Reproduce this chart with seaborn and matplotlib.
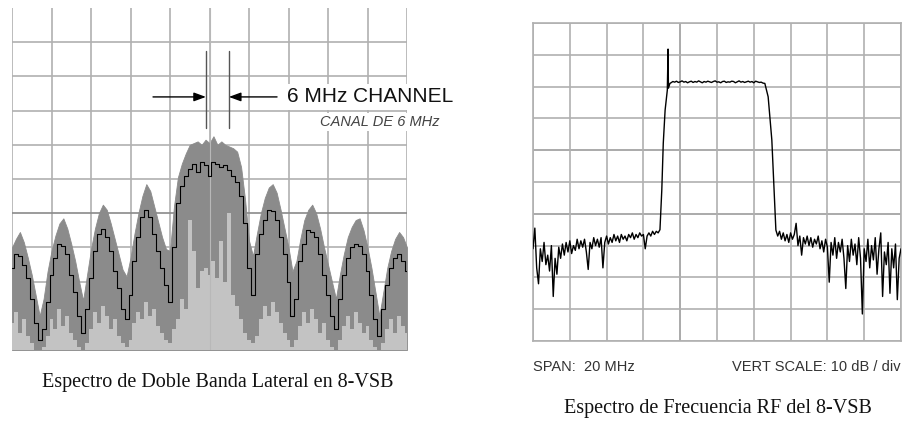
import numpy as np
import matplotlib
matplotlib.use("Agg")
import matplotlib.pyplot as plt
import seaborn as sns

# ---------------- Left panel: double-sideband 8-VSB spectrum (x, y in divisions) ----------------
dsb_x_start, dsb_x_stop = 0.0, 10.0
dsb_envelope = [3.0, 3.25, 3.45, 3.15, 2.7, 2.2, 1.6, 1.0, 1.5, 2.3,
                2.9, 3.35, 3.7, 3.85, 3.55, 3.1, 2.6, 2.0, 1.45, 2.2,
                2.95, 3.55, 4.0, 4.25, 4.1, 3.7, 3.25, 2.8, 2.35, 2.15,
                2.7, 3.4, 4.0, 4.5, 4.85, 4.65, 4.2, 3.75, 3.3, 2.95,
                2.9, 4.2, 5.05, 5.45, 5.75, 6.0, 6.05, 6.1, 6.0, 6.15,
                6.05, 6.25, 6.0, 6.1, 6.0, 5.95, 5.9, 5.8, 5.35, 4.4,
                3.2, 2.75, 3.4, 4.0, 4.45, 4.75, 4.85, 4.6, 4.1, 3.55,
                3.0, 2.3, 2.6, 3.25, 3.8, 4.1, 4.25, 4.0, 3.55, 3.0,
                2.5, 2.0, 1.5, 2.2, 2.8, 3.3, 3.6, 3.8, 3.85, 3.5,
                3.0, 2.4, 1.7, 1.0, 1.7, 2.4, 2.9, 3.25, 3.45, 3.3,
                3.0]
dsb_trace = [2.4, 2.8, 2.75, 2.5, 2.1, 1.5, 0.8, 0.3, 0.6, 1.4,
             2.2, 2.7, 3.1, 3.05, 2.8, 2.2, 1.7, 1.0, 0.5, 1.2,
             2.1, 2.9, 3.4, 3.55, 3.3, 2.9, 2.3, 1.8, 1.2, 0.9,
             1.6, 2.6, 3.3, 3.9, 4.1, 3.9, 3.4, 2.9, 2.4, 1.9,
             1.4, 3.0, 4.3, 4.8, 5.1, 5.3, 5.45, 5.2, 5.5, 5.4,
             5.1, 5.5, 5.45, 5.35, 5.4, 5.25, 5.1, 4.9, 4.5, 3.7,
             2.4, 1.6, 2.8, 3.4, 3.8, 4.1, 4.05, 3.8, 3.3, 2.8,
             2.0, 1.0, 1.5, 2.6, 3.1, 3.5, 3.45, 3.3, 2.8, 2.2,
             1.6, 1.0, 0.6, 1.5, 2.2, 2.7, 3.0, 3.1, 3.05, 2.8,
             2.3, 1.6, 0.9, 0.4, 1.2, 1.9, 2.4, 2.7, 2.8, 2.6,
             2.3]
dsb_inner = [0.8, 1.1, 0.5, 0.9, 0.4, 0.2, 0.0, 0.0, 0.1, 0.4,
             0.9, 0.6, 1.2, 0.7, 1.0, 0.5, 0.3, 0.1, 0.0, 0.2,
             0.6, 1.1, 0.8, 1.3, 1.0, 0.6, 0.9, 0.4, 0.2, 0.1,
             0.3, 0.8, 1.1, 0.9, 1.4, 1.0, 1.2, 0.7, 0.5, 0.3,
             0.2, 0.6, 0.9, 1.5, 1.2, 3.8, 2.9, 1.8, 2.3, 2.4,
             2.2, 2.6, 2.1, 3.2, 2.0, 4.0, 1.6, 1.3, 0.9, 0.5,
             0.3, 0.2, 0.4, 0.9, 1.3, 1.0, 1.4, 1.1, 0.8, 0.5,
             0.3, 0.1, 0.3, 0.7, 1.1, 0.8, 1.2, 0.9, 0.5, 0.8,
             0.3, 0.1, 0.0, 0.3, 0.7, 1.0, 0.6, 1.1, 0.8, 0.5,
             0.7, 0.3, 0.1, 0.0, 0.2, 0.6, 0.9, 0.5, 1.0, 0.7,
             0.5]

# ---------------- Right panel: RF spectrum of 8-VSB (x in div, 2 MHz/div; y in div, 10 dB/div) ----------------
floor_left_x = (0.0, 3.45)
floor_left = [2.9, 3.55, 2.3, 1.8, 2.9, 2.5, 3.1, 2.4, 2.7, 2.2,
              3.0, 1.4, 2.6, 2.1, 2.95, 2.6, 3.05, 2.7, 3.1, 2.8,
              3.15, 2.75, 3.0, 2.85, 3.2, 2.9, 3.15, 2.95, 3.2, 2.8,
              2.25, 3.1, 2.9, 3.25, 3.0, 3.2, 2.95, 3.25, 2.3, 3.1,
              3.3, 3.05, 3.25, 3.1, 3.35, 3.15, 3.3, 3.1, 3.35, 3.2,
              3.3, 3.15, 3.35, 3.25, 3.4, 3.2, 3.35, 3.25, 3.4, 3.3,
              3.35, 2.9, 3.3, 3.4, 3.3, 3.45, 3.35, 3.45, 3.4, 3.5]
rise_x = [3.50, 3.54, 3.59, 3.65, 3.67, 3.68, 3.72]
rise = [4.75, 6.22, 7.26, 7.89, 9.18, 7.95, 8.1]
top_x = (3.75, 6.25)
top = [8.12, 8.16, 8.14, 8.17, 8.13, 8.15, 8.18, 8.14, 8.16, 8.12,
       8.15, 8.17, 8.13, 8.16, 8.14, 8.18, 8.15, 8.12, 8.16, 8.14,
       8.17, 8.15, 8.13, 8.16, 8.18, 8.14, 8.15, 8.12, 8.16, 8.17,
       8.13, 8.15, 8.14, 8.17, 8.16, 8.12, 8.15, 8.18, 8.14, 8.16,
       8.13, 8.15, 8.17, 8.14, 8.16, 8.12, 8.17, 8.15, 8.13, 8.14,
       8.11]
fall_x = [6.30, 6.39, 6.49, 6.55, 6.58, 6.60]
fall = [8.1, 7.68, 6.32, 4.75, 3.9, 3.49]
floor_right_x = (6.65, 10.0)
floor_right = [3.3, 3.45, 3.2, 3.4, 3.15, 3.35, 3.1, 3.4, 3.2, 3.35,
               3.7, 3.0, 3.3, 2.7, 3.25, 3.05, 3.3, 3.0, 3.25, 2.95,
               3.2, 3.05, 3.3, 2.9, 3.15, 2.8, 3.2, 2.95, 1.85, 3.1,
               2.7, 3.25, 2.6, 3.1, 2.8, 3.2, 2.6, 1.65, 3.0, 2.5,
               3.2, 2.7, 3.05, 2.4, 3.25, 2.6, 0.85, 2.9, 2.5, 3.2,
               2.3, 3.0, 2.55, 3.25, 2.1, 2.9, 3.4, 1.4, 2.8, 2.4,
               3.1, 1.5, 2.9, 2.3, 3.05, 1.3, 2.6, 2.9]

# ---------------- Texts ----------------
channel_label = "6 MHz CHANNEL"
channel_label_es = "CANAL DE 6 MHz"
span_label = "SPAN:  20 MHz"
vscale_label = "VERT SCALE: 10 dB / div"
caption_left = "Espectro de Doble Banda Lateral en 8-VSB"
caption_right = "Espectro de Frecuencia RF del 8-VSB"

sns.set_theme(style="white")
plt.rcParams['font.family'] = ['Liberation Sans', 'DejaVu Sans']

W, H = 904, 421
fig = plt.figure(figsize=(W / 100, H / 100), dpi=100)
fig.patch.set_facecolor("white")

GRID = "#b0b0b0"
GRID_DARK = "#8a8a8a"
MID = "#8b8b8b"
LIGHT = "#c3c3c3"

# ---------- Left axes ----------
axL = fig.add_axes([12 / W, 1 - 350 / H, 395 / W, 342 / H])
axL.set_xlim(0, 10)
axL.set_ylim(0, 10)
for s in axL.spines.values():
    s.set_visible(False)
axL.set_xticks([]); axL.set_yticks([])
axL.set_facecolor("none")
for v in range(11):
    axL.axvline(v, color=GRID, lw=1.2, zorder=0)
for hgt in range(0, 10):
    axL.axhline(hgt, color=GRID_DARK if hgt == 4 else GRID, lw=1.2, zorder=0)

xl = np.linspace(dsb_x_start, dsb_x_stop, len(dsb_envelope))
axL.fill_between(xl, 0, dsb_envelope, color=MID, lw=0.6, edgecolor=MID, zorder=1)
axL.fill_between(xl, 0, dsb_inner, step="mid", color=LIGHT, lw=0, zorder=2)
axL.axvline(5, color="#b8b8b8", lw=0.8, zorder=2.5)
sns.lineplot(x=xl, y=dsb_trace, ax=axL, color="black", lw=0.8,
             drawstyle="steps-mid", estimator=None, zorder=3)
axL.set_xlabel(""); axL.set_ylabel("")

# channel markers
ax_lo, ax_hi = 4.91, 5.49
for xv in (ax_lo, ax_hi):
    axL.plot([xv, xv], [6.49, 8.74], color="#555555", lw=1.0, zorder=4)
ya = 7.40
axL.annotate("", xy=(ax_lo, ya), xytext=(3.57, ya),
             arrowprops=dict(arrowstyle="-|>,head_length=0.6,head_width=0.22",
                             color="black", lw=1.0, shrinkA=0, shrinkB=0), zorder=5)
axL.annotate("", xy=(ax_hi, ya), xytext=(6.71, ya),
             arrowprops=dict(arrowstyle="-|>,head_length=0.6,head_width=0.22",
                             color="black", lw=1.0, shrinkA=0, shrinkB=0), zorder=5)
axL.text(6.96, ya, channel_label, fontsize=15, color="#111111", va="center", ha="left",
         zorder=6, bbox=dict(facecolor="white", edgecolor="none", pad=2.5), clip_on=False)
axL.text(7.8, 6.67, channel_label_es, fontsize=10.5, style="italic", color="#444444",
         va="center", ha="left", zorder=6,
         bbox=dict(facecolor="white", edgecolor="none", pad=1.5), clip_on=False)

# ---------- Right axes ----------
axR = fig.add_axes([533 / W, 1 - 341 / H, 368 / W, 318 / H])
axR.set_xlim(0, 10)
axR.set_ylim(0, 10)
axR.set_xticks(range(11)); axR.set_yticks(range(11))
axR.tick_params(length=0, labelbottom=False, labelleft=False)
axR.grid(True, color=GRID, lw=1.2)
axR.set_axisbelow(True)
for s in axR.spines.values():
    s.set_color(GRID); s.set_linewidth(1.2)
axR.axvline(4, color=GRID_DARK, lw=1.2, zorder=0.5)
axR.axhline(6, color=GRID_DARK, lw=1.2, zorder=0.5)
axR.axhline(4, color=GRID_DARK, lw=1.2, zorder=0.5)

xr = np.concatenate([np.linspace(*floor_left_x, len(floor_left)), rise_x,
                     np.linspace(*top_x, len(top)), fall_x,
                     np.linspace(*floor_right_x, len(floor_right))])
yr = np.concatenate([floor_left, rise, top, fall, floor_right])
sns.lineplot(x=xr, y=yr, ax=axR, color="black", lw=1.0, estimator=None, sort=False, zorder=3)
axR.set_xlabel(""); axR.set_ylabel("")

fig.text(533 / W, 1 - 367 / H, span_label, fontsize=10.5, color="#333333", ha="left", va="center")
fig.text(901 / W, 1 - 367 / H, vscale_label, fontsize=10.5, color="#333333", ha="right", va="center")

fig.text(218 / W, 1 - 383 / H, caption_left, fontsize=14.5, family="Liberation Serif",
         color="#111111", ha="center", va="center")
fig.text(718 / W, 1 - 409 / H, caption_right, fontsize=14.5, family="Liberation Serif",
         color="#111111", ha="center", va="center")

fig.savefig("out.png", dpi=100, facecolor="white")
